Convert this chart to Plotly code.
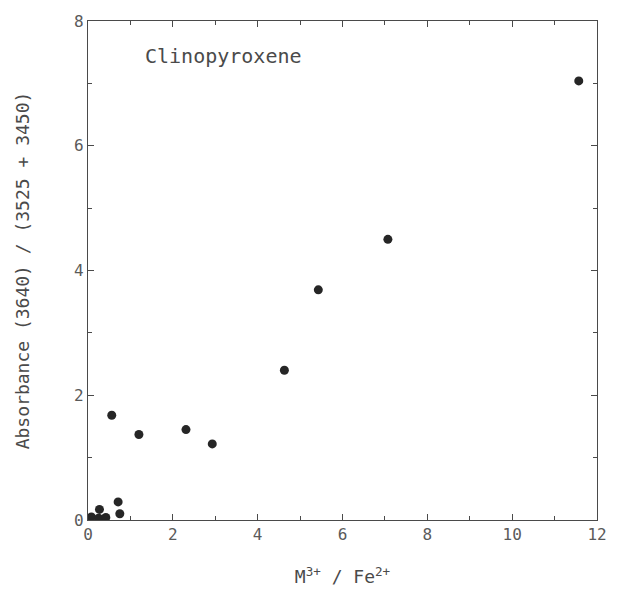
import plotly.graph_objects as go

# Data
ratio_m3_fe2 = [0.08, 0.25, 0.42, 0.27, 0.71, 0.75, 0.56, 1.20, 2.31, 2.93, 4.63, 5.43, 7.07, 11.57]
absorbance_ratio = [0.05, 0.03, 0.04, 0.17, 0.29, 0.10, 1.68, 1.37, 1.45, 1.22, 2.40, 3.69, 4.50, 7.04]

x_ticks = [0, 2, 4, 6, 8, 10, 12]
y_ticks = [0, 2, 4, 6, 8]

FONT = "DejaVu Sans Mono"
AXIS_COLOR = "#4a4a4a"
TEXT_COLOR = "#4a4a4a"

fig = go.Figure()
fig.add_trace(go.Scatter(
    x=ratio_m3_fe2, y=absorbance_ratio, mode="markers",
    marker=dict(size=9, color="#262626", line=dict(width=0)),
    showlegend=False,
))

axis_common = dict(
    showgrid=False, zeroline=False,
    showline=True, linecolor=AXIS_COLOR, linewidth=1.2, mirror="ticks",
    ticks="inside", ticklen=6, tickwidth=1, tickcolor=AXIS_COLOR,
    tickfont=dict(family=FONT, size=16, color="#5a5a5a"),
    minor=dict(ticks="inside", ticklen=4, tickwidth=1, tickcolor=AXIS_COLOR, dtick=1, showgrid=False),
)

fig.update_xaxes(
    range=[0, 12], tickvals=x_ticks, ticktext=[str(v) for v in x_ticks],
    title=dict(text="M<sup>3+</sup> / Fe<sup>2+</sup>", font=dict(family=FONT, size=18, color=TEXT_COLOR), standoff=27),
    **axis_common,
)
fig.update_yaxes(
    range=[0, 8], tickvals=y_ticks, ticktext=[str(v) for v in y_ticks],
    title=dict(text="Absorbance (3640) / (3525 + 3450)", font=dict(family=FONT, size=18, color=TEXT_COLOR), standoff=39),
    **axis_common,
)

fig.add_annotation(
    x=1.3, y=7.44, xref="x", yref="y", xanchor="left", yanchor="middle",
    text="Clinopyroxene", showarrow=False,
    font=dict(family=FONT, size=20, color=TEXT_COLOR),
)

fig.update_layout(
    width=624, height=596,
    margin=dict(l=88, r=27, t=12, b=75),
    plot_bgcolor="white", paper_bgcolor="white",
)

fig.write_html("out.html")
